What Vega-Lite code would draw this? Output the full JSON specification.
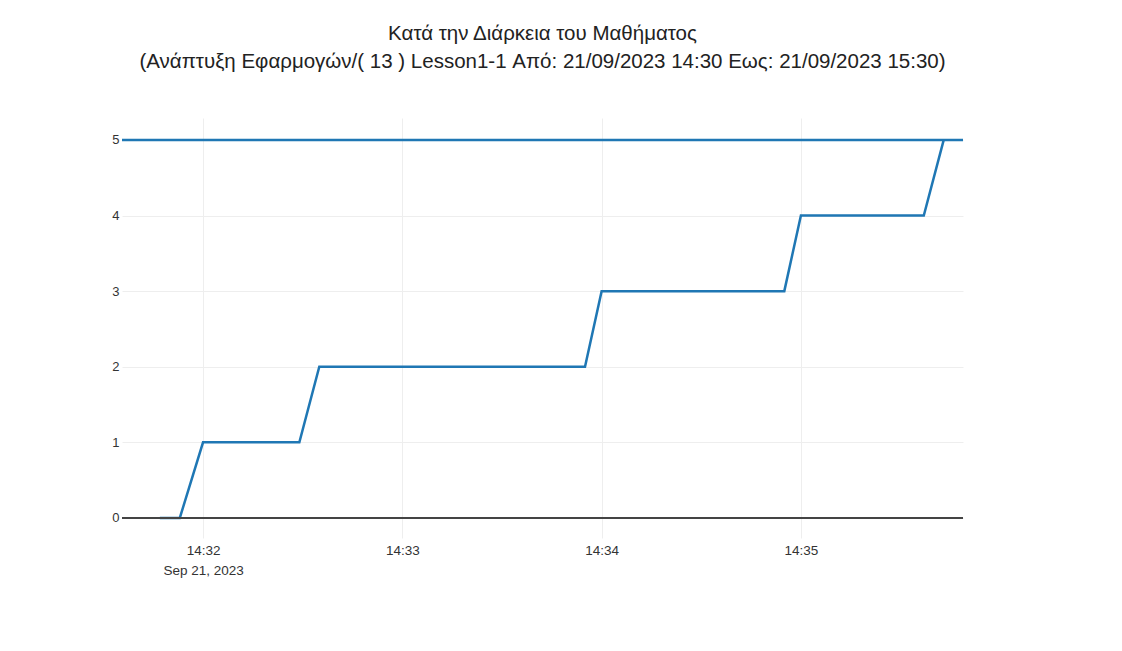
{
  "$schema": "https://vega.github.io/schema/vega-lite/v6.json",
  "width": 841,
  "height": 420,
  "autosize": {"type": "none"},
  "padding": {"left": 122, "top": 118, "right": 159, "bottom": 113},
  "background": "white",
  "config": {
    "view": {"stroke": null},
    "font": "Liberation Sans"
  },
  "title": {
    "text": ["Κατά την Διάρκεια του Μαθήματος", "(Ανάπτυξη Εφαρμογών/( 13 ) Lesson1-1 Από: 21/09/2023 14:30 Εως: 21/09/2023 15:30)"],
    "fontSize": 20.5,
    "fontWeight": "normal",
    "color": "#222",
    "anchor": "middle",
    "lineHeight": 28,
    "offset": 46
  },
  "data": {
    "values": [
      {"series": "main", "time": "2023-09-21T14:31:47", "value": 0},
      {"series": "main", "time": "2023-09-21T14:31:53", "value": 0},
      {"series": "main", "time": "2023-09-21T14:32:00", "value": 1},
      {"series": "main", "time": "2023-09-21T14:32:29", "value": 1},
      {"series": "main", "time": "2023-09-21T14:32:35", "value": 2},
      {"series": "main", "time": "2023-09-21T14:33:55", "value": 2},
      {"series": "main", "time": "2023-09-21T14:34:00", "value": 3},
      {"series": "main", "time": "2023-09-21T14:34:55", "value": 3},
      {"series": "main", "time": "2023-09-21T14:35:00", "value": 4},
      {"series": "main", "time": "2023-09-21T14:35:37", "value": 4},
      {"series": "main", "time": "2023-09-21T14:35:43", "value": 5},
      {"series": "max", "time": "2023-09-21T14:31:35.600", "value": 5},
      {"series": "max", "time": "2023-09-21T14:35:48.800", "value": 5}
    ]
  },
  "layer": [
    {
      "mark": {"type": "line", "color": "#1f77b4", "strokeWidth": 2.5},
      "encoding": {
        "x": {
          "field": "time",
          "type": "temporal",
          "title": null,
          "axis": {
            "values": [
              {"year": 2023, "month": 9, "date": 21, "hours": 14, "minutes": 32},
              {"year": 2023, "month": 9, "date": 21, "hours": 14, "minutes": 33},
              {"year": 2023, "month": 9, "date": 21, "hours": 14, "minutes": 34},
              {"year": 2023, "month": 9, "date": 21, "hours": 14, "minutes": 35}
            ],
            "labelExpr": "datum.index == 0 ? [timeFormat(datum.value, '%H:%M'), timeFormat(datum.value, '%b %d, %Y')] : timeFormat(datum.value, '%H:%M')",
            "domain": false,
            "ticks": false,
            "gridColor": "#eee",
            "labelFontSize": 13.5,
            "labelColor": "#333",
            "labelPadding": 5,
            "labelLineHeight": 20
          }
        },
        "y": {
          "field": "value",
          "type": "quantitative",
          "title": null,
          "scale": {"domain": [-0.265, 5.29], "nice": false, "zero": false},
          "axis": {
            "values": [0, 1, 2, 3, 4, 5],
            "format": "d",
            "domain": false,
            "ticks": false,
            "gridColor": "#eee",
            "labelFontSize": 13,
            "labelColor": "#333",
            "labelPadding": 3
          }
        },
        "detail": {"field": "series"}
      }
    },
    {
      "mark": {"type": "rule", "color": "#444", "strokeWidth": 2},
      "encoding": {"y": {"datum": 0, "type": "quantitative"}}
    }
  ]
}
